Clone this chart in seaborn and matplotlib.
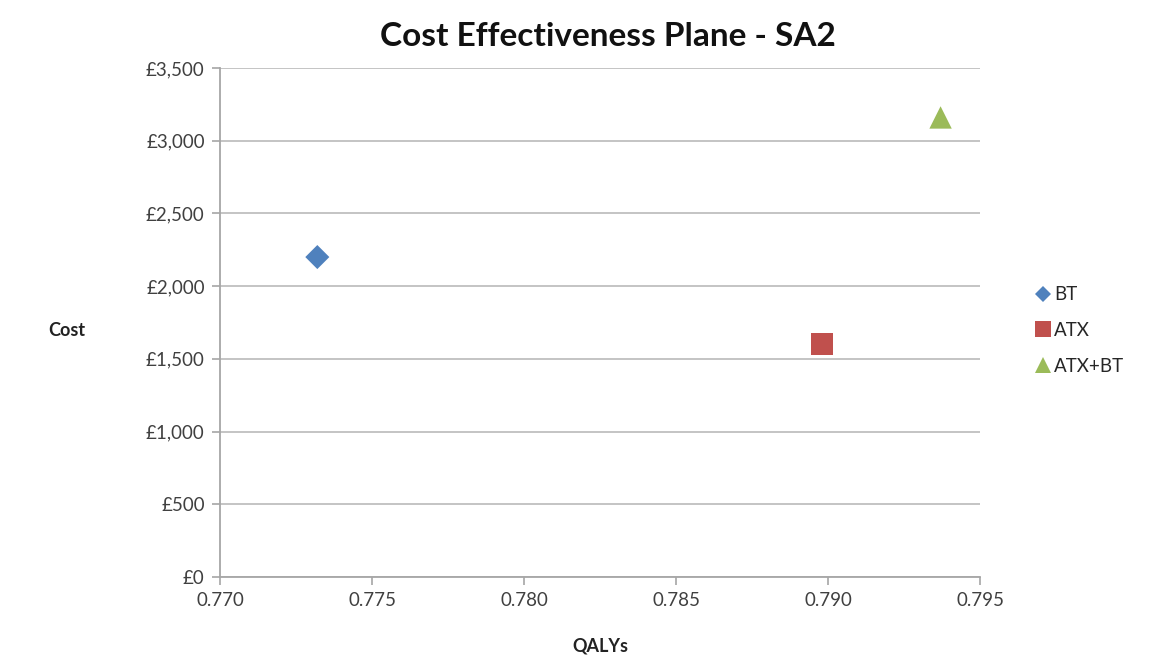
import matplotlib.pyplot as plt
import matplotlib.ticker as mticker
from matplotlib.lines import Line2D
import pandas as pd
import seaborn as sns

strategies = ["BT", "ATX", "ATX+BT"]
qalys = [0.7732, 0.7898, 0.7937]
costs = [2200, 1600, 3160]
colors = ["#4F81BD", "#C0504D", "#9BBB59"]
markers = ["D", "s", "^"]
marker_sizes = [150, 260, 260]
x_ticks = [0.770, 0.775, 0.780, 0.785, 0.790, 0.795]
y_ticks = [0, 500, 1000, 1500, 2000, 2500, 3000, 3500]

df = pd.DataFrame({"strategy": strategies, "QALYs": qalys, "Cost": costs})

sns.set_theme(style="white")
plt.rcParams["font.family"] = ["Lato", "DejaVu Sans"]

fig = plt.figure(figsize=(11.49, 6.57), dpi=100)
ax = fig.add_axes([0.1915, 0.1218, 0.6615, 0.7747])

sns.scatterplot(
    data=df, x="QALYs", y="Cost", hue="strategy", style="strategy",
    size="strategy",
    palette=dict(zip(strategies, colors)),
    markers=dict(zip(strategies, markers)),
    sizes=dict(zip(strategies, marker_sizes)),
    linewidth=0, legend=False, ax=ax, zorder=3,
)

ax.set_xlim(0.770, 0.795)
ax.set_ylim(0, 3500)
ax.set_xticks(x_ticks)
ax.set_yticks(y_ticks)
ax.xaxis.set_major_formatter(mticker.FormatStrFormatter("%.3f"))
ax.yaxis.set_major_formatter(mticker.FuncFormatter(lambda v, _: f"£{v:,.0f}"))
ax.yaxis.grid(True, color="#BFBFBF", linewidth=1.3)
ax.xaxis.grid(False)
for side in ["top", "right"]:
    ax.spines[side].set_visible(False)
for side in ["left", "bottom"]:
    ax.spines[side].set_color("#A6A6A6")
    ax.spines[side].set_linewidth(1.3)
ax.tick_params(axis="both", which="major", length=6, width=1.2, color="#A6A6A6",
               labelsize=13.5, labelcolor="#404040", pad=5)
ax.tick_params(axis="x", direction="out", bottom=True)
ax.tick_params(axis="y", direction="out", left=True)

ax.set_xlabel("QALYs", fontsize=13, fontweight="bold", color="#222222", labelpad=20)
ax.set_ylabel("")
fig.text(0.058, 0.497, "Cost", fontsize=13, fontweight="bold", color="#222222",
         ha="center", va="center")

fig.text(0.529, 0.945, "Cost Effectiveness Plane - SA2", ha="center", va="center",
         fontsize=24, fontweight="bold", color="#111111")

handles = [Line2D([0], [0], marker=m, color="w", markerfacecolor=c, markeredgewidth=0,
                  markersize=ms, label=s)
           for s, c, m, ms in zip(strategies, colors, markers, [8, 12, 11])]
fig.legend(handles=handles, loc="center left", bbox_to_anchor=(0.885, 0.497),
           frameon=False, fontsize=13.5, handletextpad=0.1, labelspacing=1.0,
           handlelength=1.0)

fig.savefig("out.png", dpi=100)
